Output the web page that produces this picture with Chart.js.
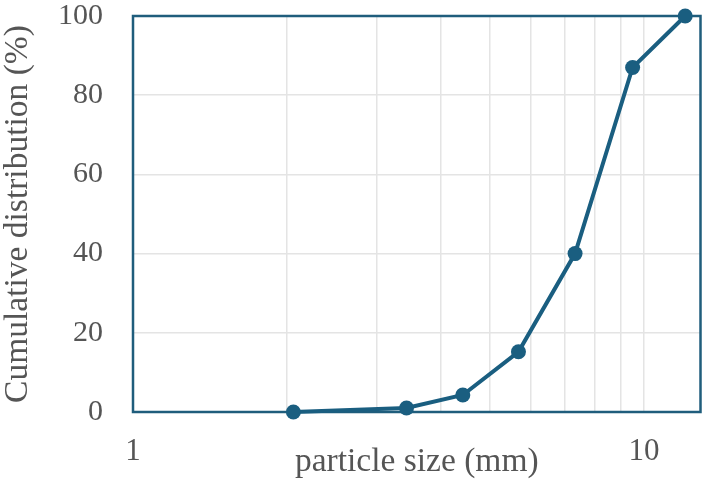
<!DOCTYPE html>
<html>
<head>
<meta charset="utf-8">
<script src="https://cdn.jsdelivr.net/npm/chart.js@4/dist/chart.umd.min.js"></script>
<style>
  html, body { margin: 0; padding: 0; background: #fff; }
  #wrap { width: 708px; height: 484px; position: relative; overflow: hidden; }
  #c { position: absolute; left: 0; top: -32px; }
</style>
</head>
<body>
<div id="wrap"><canvas id="c" width="708" height="516"></canvas></div>
<script>
// Data
const particleSize = [2.06, 3.43, 4.42, 5.68, 7.33, 9.5, 12.04];   // mm
const cumulative   = [0, 1, 4.3, 15.2, 40, 87, 100];                // %
const xTickValues  = [1, 2, 3, 4, 5, 6, 7, 8, 9, 10];
const xTickLabels  = ['1', '10'];
const yTickValues  = [0, 20, 40, 60, 80, 100];
const xTitle = 'particle size (mm)';
const yTitle = 'Cumulative distribution (%)';

const lineColor = '#1a5e80';
const frameColor = '#1f5d7c';
const textColor = '#555555';
const fontFamily = '"Liberation Serif", "Times New Roman", serif';

const framePlugin = {
  id: 'frame',
  beforeDatasetsDraw(chart) {
    const {ctx, chartArea: a} = chart;
    ctx.save();
    ctx.strokeStyle = frameColor;
    ctx.lineWidth = 2.5;
    ctx.strokeRect(a.left, a.top, a.right - a.left, a.bottom - a.top);
    ctx.restore();
  }
};

new Chart(document.getElementById('c'), {
  type: 'line',
  data: {
    datasets: [{
      data: particleSize.map((x, i) => ({x: x, y: cumulative[i]})),
      borderColor: lineColor,
      backgroundColor: lineColor,
      borderWidth: 4,
      pointRadius: 7.5,
      pointHoverRadius: 7.5,
      pointBackgroundColor: lineColor,
      pointBorderWidth: 0,
      tension: 0,
      clip: false
    }]
  },
  options: {
    responsive: false,
    animation: false,
    events: [],
    layout: { padding: { left: 0, right: 4, top: 0, bottom: 0 } },
    plugins: { legend: { display: false }, tooltip: { enabled: false } },
    scales: {
      x: {
        type: 'logarithmic',
        min: 1,
        max: 12.9,
        afterBuildTicks: s => { s.ticks = xTickValues.map(v => ({value: v})); },
        afterFit: s => { s.height = 72; },
        grid: { color: '#e4e4e4', lineWidth: 1.5, drawTicks: false },
        border: { display: false },
        ticks: {
          autoSkip: false,
          maxRotation: 0,
          padding: 21,
          color: textColor,
          font: { family: fontFamily, size: 31 },
          callback: v => xTickLabels.includes(String(v)) ? String(v) : ''
        },
        title: {
          display: true,
          text: xTitle,
          color: textColor,
          font: { family: fontFamily, size: 33.5, lineHeight: 1.31 },
          padding: { top: 0, bottom: 0 }
        }
      },
      y: {
        min: 0,
        max: 100,
        afterBuildTicks: s => { s.ticks = yTickValues.map(v => ({value: v})); },
        afterFit: s => { s.width = 133; },
        grid: { color: '#e4e4e4', lineWidth: 1.5, drawTicks: false },
        border: { display: false },
        ticks: {
          padding: 30,
          color: textColor,
          font: { family: fontFamily, size: 30 }
        },
        title: {
          display: true,
          text: yTitle,
          color: textColor,
          font: { family: fontFamily, size: 33.5, lineHeight: 1 },
          padding: { top: 1, bottom: 0 }
        }
      }
    }
  },
  plugins: [framePlugin]
});
</script>
</body>
</html>
